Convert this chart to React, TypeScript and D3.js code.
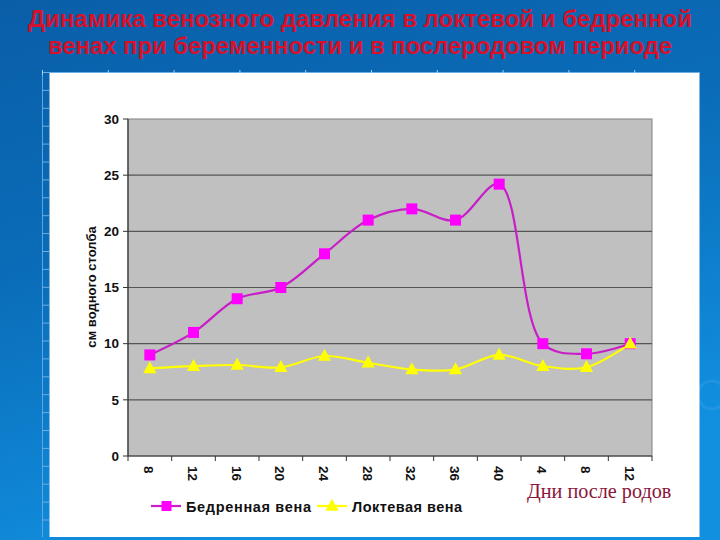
import React from "react";
import * as d3 from "d3";

const categories = ["8", "12", "16", "20", "24", "28", "32", "36", "40", "4", "8", "12"];
const femoral = [9, 11, 14, 15, 18, 21, 22, 21, 24.2, 10, 9.1, 10];
const ulnar = [7.8, 8.0, 8.1, 7.9, 8.9, 8.3, 7.7, 7.7, 9.0, 8.0, 7.9, 10.0];
const yTicks = [0, 5, 10, 15, 20, 25, 30];
const seriesNames = ["Бедренная вена", "Локтевая вена"];
const titleLines = [
  "Динамика венозного давления в локтевой и бедренной",
  "венах при беременности и в послеродовом периоде",
];
const yTitle = "см водного столба";
const postLabel = "Дни после родов";

const W = 720;
const H = 540;
const plot = { left: 128, right: 652, top: 119, bottom: 456 };

export default function App() {
  const x = d3
    .scaleBand<number>()
    .domain(categories.map((_, i) => i))
    .range([plot.left, plot.right]);
  const y = d3.scaleLinear().domain([0, 30]).range([plot.bottom, plot.top]);
  const cx = (i: number) => (x(i) as number) + x.bandwidth() / 2;

  const line = d3
    .line<number>()
    .x((_, i) => cx(i))
    .y((d) => y(d))
    .curve(d3.curveCatmullRom.alpha(0.5));

  const sans = "Arial, 'Liberation Sans', sans-serif";
  const magenta = "#ff00ff";
  const magLine = "#c81ec8";
  const yellow = "#ffff00";

  const leftTicks = d3.range(72, 537, 17.9);
  const topTicks = d3.range(42, 700, 65.8);

  const tri = (px: number, py: number, s: number) =>
    `M${px},${py - s * 0.6}L${px + s * 0.55},${py + s * 0.4}L${px - s * 0.55},${py + s * 0.4}Z`;

  return (
    <div style={{ position: "absolute", left: 0, top: 0 }}>
      <svg width={W} height={H} style={{ display: "block" }}>
        <defs>
          <linearGradient id="bg" x1="0" y1="0" x2="0.35" y2="1">
            <stop offset="0" stopColor="#0a5ea8" />
            <stop offset="0.45" stopColor="#0a6cb8" />
            <stop offset="1" stopColor="#1190e0" />
          </linearGradient>
        </defs>
        <rect x={0} y={0} width={W} height={H} fill="url(#bg)" />
        <circle cx={712} cy={395} r={14} fill="none" stroke="#3aa0ea" strokeWidth={3} opacity={0.4} />

        {titleLines.map((t, i) => (
          <text
            key={i}
            x={360}
            y={26.5 + i * 27}
            textAnchor="middle"
            fill="#d8102a"
            fontFamily={sans}
            fontWeight="bold"
            fontSize={23.5}
            textLength={i === 0 ? 664 : 624}
            lengthAdjust="spacingAndGlyphs"
          >
            {t}
          </text>
        ))}

        {/* ruler strips */}
        <line x1={42.5} y1={72} x2={42.5} y2={537} stroke="#5fa6de" strokeWidth={1} />
        {leftTicks.map((t, i) => (
          <line key={i} x1={42} x2={49} y1={t + 0.5} y2={t + 0.5} stroke="#6aaee4" strokeWidth={1} />
        ))}
        <line x1={42} y1={72.5} x2={700} y2={72.5} stroke="#6aaee4" strokeWidth={1} />
        {topTicks.map((t, i) => (
          <line key={i} x1={t + 0.5} x2={t + 0.5} y1={70} y2={75} stroke="#a8d0f0" strokeWidth={1} />
        ))}

        {/* white panel */}
        <rect x={49.5} y={73} width={650} height={464} fill="#ffffff" />

        {/* plot area */}
        <rect
          x={plot.left}
          y={plot.top}
          width={plot.right - plot.left}
          height={plot.bottom - plot.top}
          fill="#c0c0c0"
          stroke="#808080"
          strokeWidth={1}
        />
        {yTicks.slice(1, -1).map((t) => (
          <line key={t} x1={plot.left} x2={plot.right} y1={y(t)} y2={y(t)} stroke="#555555" strokeWidth={1.2} />
        ))}
        {/* axes */}
        <line x1={plot.left} x2={plot.left} y1={plot.top} y2={plot.bottom} stroke="#333" strokeWidth={1.2} />
        <line x1={plot.left} x2={plot.right} y1={plot.bottom} y2={plot.bottom} stroke="#333" strokeWidth={1.2} />
        {yTicks.map((t) => (
          <g key={t}>
            <line x1={plot.left - 5} x2={plot.left} y1={y(t)} y2={y(t)} stroke="#333" />
            <text
              x={plot.left - 9}
              y={y(t)}
              dy="0.35em"
              textAnchor="end"
              fontFamily={sans}
              fontSize={13.5}
              fontWeight="bold"
              fill="#111"
            >
              {t}
            </text>
          </g>
        ))}
        {categories.map((_, i) => (
          <line
            key={"xt" + i}
            x1={(x(i) as number)}
            x2={(x(i) as number)}
            y1={plot.bottom}
            y2={plot.bottom + 5}
            stroke="#333"
          />
        ))}
        <line x1={plot.right} x2={plot.right} y1={plot.bottom} y2={plot.bottom + 5} stroke="#333" />
        {categories.map((c, i) => (
          <text
            key={"xl" + i}
            transform={`translate(${cx(i) - 5.5},${plot.bottom + 10}) rotate(90)`}
            fontFamily={sans}
            fontSize={13.5}
            fontWeight="bold"
            fill="#111"
            textAnchor="start"
          >
            {c}
          </text>
        ))}
        <text
          transform={`translate(96,287) rotate(-90)`}
          textAnchor="middle"
          fontFamily={sans}
          fontSize={13}
          fontWeight="bold"
          fill="#111"
        >
          {yTitle}
        </text>

        {/* series */}
        <path d={line(ulnar) || ""} fill="none" stroke={yellow} strokeWidth={2.2} />
        <path d={line(femoral) || ""} fill="none" stroke={magLine} strokeWidth={2.2} />
        {femoral.map((v, i) => (
          <rect key={"f" + i} x={cx(i) - 5.5} y={y(v) - 5.5} width={11} height={11} fill={magenta} />
        ))}
        {ulnar.map((v, i) => (
          <path key={"u" + i} d={tri(cx(i), y(v), 12)} fill={yellow} />
        ))}

        <text x={527} y={498} fontFamily="'Liberation Serif', 'Times New Roman', serif" fontSize={20.2} fill="#8a1538">
          {postLabel}
        </text>

        {/* legend */}
        <line x1={151} x2={181} y1={506} y2={506} stroke={magLine} strokeWidth={2.2} />
        <rect x={161.5} y={501} width={10} height={10} fill={magenta} />
        <text
          x={186}
          y={511.5}
          fontFamily={sans}
          fontSize={14.5}
          fontWeight="bold"
          fill="#111"
          textLength={125}
          lengthAdjust="spacing"
        >
          {seriesNames[0]}
        </text>
        <line x1={317} x2={347} y1={506} y2={506} stroke={yellow} strokeWidth={2.2} />
        <path d={tri(332, 506, 12)} fill={yellow} />
        <text
          x={352}
          y={511.5}
          fontFamily={sans}
          fontSize={14.5}
          fontWeight="bold"
          fill="#111"
          textLength={110}
          lengthAdjust="spacing"
        >
          {seriesNames[1]}
        </text>
      </svg>
    </div>
  );
}
